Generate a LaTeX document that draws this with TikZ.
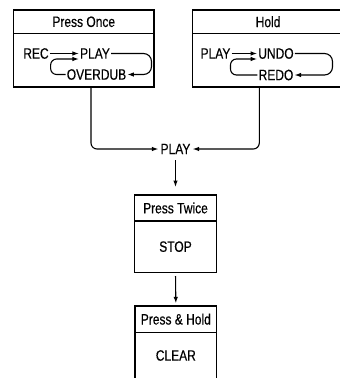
\documentclass[tikz,border=0pt]{standalone}
\usepackage{fontspec}
\setmainfont{Liberation Sans}[FakeStretch=0.8,FakeBold=0.4]
\usetikzlibrary{arrows.meta,calc}
\begin{document}
\begin{tikzpicture}[x=1bp,y=-1bp,
  every node/.style={font=\fontsize{15bp}{17bp}\selectfont, text=black},
  boxpart/.style={draw, line width=1.1bp, inner sep=0pt, outer sep=0pt},
  lbl/.style={inner sep=1bp},
  conn/.style={line width=1.1bp},
  arr/.style={conn, -{Latex[length=6.5bp,width=4.5bp]}},
]
\useasboundingbox (0,0) rectangle (340,378);
\clip (0,0) rectangle (340,378);
\fill[white] (0,0) rectangle (340,378);

% Press Once box
\node[boxpart, minimum width=140.5bp, minimum height=23.5bp] (poh) at (83.75,21.75) {Press Once};
\node[boxpart, minimum width=140.5bp, minimum height=53.5bp, anchor=north] (pob) at (poh.south) {};
\node[lbl] (rec) at (36,53.5) {REC};
\node[lbl] (play1) at (95,53.5) {PLAY};
\node[lbl] (ovd) at (96.5,74.5) {OVERDUB};
\coordinate (r1) at (151.5,0);
\draw[arr] (rec.east) -- (play1.west);
\draw[arr, rounded corners=8bp] (play1.east) -- (play1.east -| r1) |- (ovd.east);
\draw[arr, rounded corners=6bp] (ovd.west) -- ++(-15,0) |- ([yshift=-5.5bp]play1.west);

% Hold box
\node[boxpart, minimum width=151.5bp, minimum height=23.5bp] (hoh) at (268.1,21.75) {Hold};
\node[boxpart, minimum width=151.5bp, minimum height=53.5bp, anchor=north] (hob) at (hoh.south) {};
\node[lbl] (play2) at (215.5,53.5) {PLAY};
\node[lbl] (undo) at (276,53.5) {UNDO};
\node[lbl] (redo) at (276,75) {REDO};
\coordinate (r2) at (332.5,0);
\draw[arr] (play2.east) -- (undo.west);
\draw[arr, rounded corners=8bp] (undo.east) -- (undo.east -| r2) |- (redo.east);
\draw[arr, rounded corners=6bp] (redo.west) -- ++(-27,0) |- ([yshift=-5.5bp]undo.west);

% central PLAY
\node[inner sep=2bp] (play0) at (175.5,149) {PLAY};
\draw[arr, rounded corners=6bp] ([xshift=7.25bp]pob.south) |- (play0.west);
\draw[arr, rounded corners=6bp] ([xshift=-8.8bp]hob.south) |- (play0.east);

% Press Twice box
\node[boxpart, minimum width=82.4bp, minimum height=26bp] (pth) at (175.5,208) {Press Twice};
\node[boxpart, minimum width=82.4bp, minimum height=51.3bp, anchor=north] (ptb) at (pth.south) {};
\node[lbl] (stop) at (ptb.center) {STOP};
\draw[arr, shorten <=4bp, shorten >=8bp] (play0.south) -- (pth.north);

% Press & Hold box
\node[boxpart, minimum width=81.7bp, minimum height=26.3bp] (phh) at (175.85,319.15) {Press \& Hold};
\node[boxpart, minimum width=81.7bp, minimum height=60bp, anchor=north] (phb) at (phh.south) {};
\node[lbl] (clear) at (175.85,355.5) {CLEAR};
\draw[arr, shorten <=3.7bp, shorten >=2.7bp] (ptb.south) -- (phh.north);
\end{tikzpicture}
\end{document}
